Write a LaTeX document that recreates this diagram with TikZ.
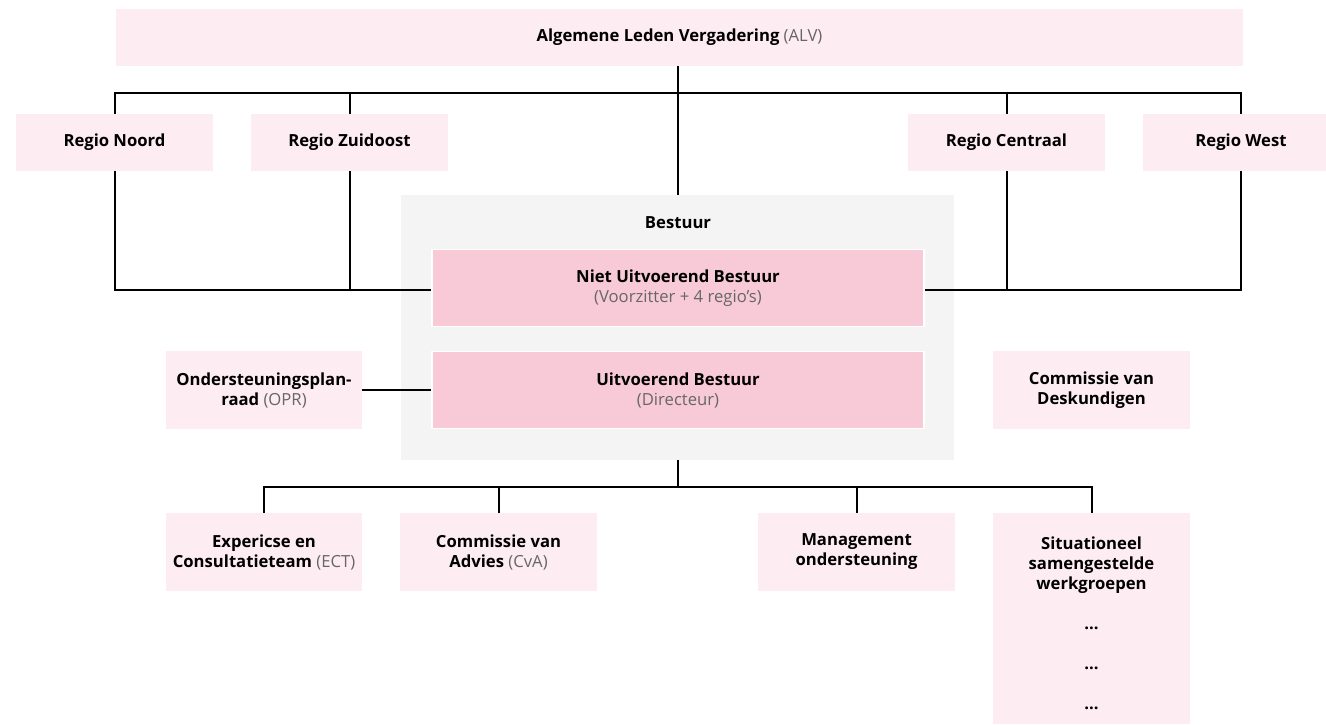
\documentclass[tikz,border=0pt]{standalone}
\usepackage{fontspec}
\setmainfont{Open Sans}
\definecolor{lightpink}{HTML}{FDECF1}
\definecolor{midpink}{HTML}{F8CAD8}
\definecolor{greybg}{HTML}{F4F4F4}
\definecolor{subgrey}{HTML}{666666}
\newcommand{\sub}[1]{{\normalfont\color{subgrey}#1}}
\tikzset{
  orgbox/.style={fill=lightpink, draw=none, inner sep=2pt, align=center,
    font=\fontsize{12.5}{15}\selectfont\bfseries, text=black},
  keybox/.style={orgbox, fill=midpink, draw=white, line width=1.2pt},
  plain/.style={font=\fontsize{12.5}{15}\selectfont\bfseries, align=center},
  link/.style={draw=black, line width=1.5pt},
}
\begin{document}
\begin{tikzpicture}[x=0.75pt, y=-0.75pt]
\useasboundingbox (0,0) rectangle (1326,724);
% top
\node[orgbox, minimum width=1127*0.75pt, minimum height=57*0.75pt] (alv) at (679.5,37.5) {Algemene Leden Vergadering \sub{(ALV)}};
\node[orgbox, minimum width=197*0.75pt, minimum height=57*0.75pt] (rn) at (114.5,142.5) {Regio Noord};
\node[orgbox, minimum width=197*0.75pt, minimum height=57*0.75pt] (rz) at (349.5,142.5) {Regio Zuidoost};
\node[orgbox, minimum width=197*0.75pt, minimum height=57*0.75pt] (rc) at (1006.5,142.5) {Regio Centraal};
\node[orgbox, minimum width=197*0.75pt, minimum height=57*0.75pt] (rw) at (1241,142.5) {Regio West};
% bestuur
\node[fill=greybg, minimum width=553*0.75pt, minimum height=265*0.75pt, inner sep=0pt] (bestuur) at (677.5,327.5) {};
\node[plain] (bestuurlabel) at (678,223) {Bestuur};
\node[keybox, minimum width=492*0.75pt, minimum height=77*0.75pt] (nub) at (678,288) {Niet Uitvoerend Bestuur\\\sub{(Voorzitter + 4 regio’s)}};
\node[keybox, minimum width=492*0.75pt, minimum height=77*0.75pt] (ub) at (678,390) {Uitvoerend Bestuur\\\sub{(Directeur)}};
\node[orgbox, minimum width=196*0.75pt, minimum height=78*0.75pt] (opr) at (264,390) {Ondersteuningsplan-\\raad \sub{(OPR)}};
\node[orgbox, minimum width=197*0.75pt, minimum height=78*0.75pt] (cvd) at (1091.5,390) {Commissie van\\Deskundigen};
% bottom
\node[orgbox, minimum width=196*0.75pt, minimum height=78*0.75pt] (ect) at (264,552) {Expericse en\\Consultatieteam \sub{(ECT)}};
\node[orgbox, minimum width=197*0.75pt, minimum height=78*0.75pt] (cva) at (498.5,552) {Commissie van\\Advies \sub{(CvA)}};
\node[orgbox, minimum width=197*0.75pt, minimum height=78*0.75pt] (mgmt) at (856.5,552) {Management\\ondersteuning};
\node[orgbox, minimum width=197*0.75pt, minimum height=211*0.75pt] (sit) at (1091.5,618.5) {};
\node[plain] (sittext) at (1091.5,565) {Situationeel\\samengestelde\\werkgroepen};
\node[plain] (dots1) at (1091.5,628) {...};
\node[plain] (dots2) at (1091.5,668) {...};
\node[plain] (dots3) at (1091.5,708) {...};
% connectors
\coordinate (bus) at (0,93);
\coordinate (bus2) at (0,487);
\coordinate (mid) at (0,290);
\draw[link] (alv.south -| bestuur.north) -- (bestuur.north);
\draw[link] (rn.north) -- (rn.north |- bus) -- (rw.north |- bus) -- (rw.north);
\draw[link] (rz.north) -- (rz.north |- bus);
\draw[link] (rc.north) -- (rc.north |- bus);
\draw[link] (rn.south) -- (rn.south |- mid) -- (nub.west |- mid);
\draw[link] (rz.south) -- (rz.south |- mid);
\draw[link] (rw.south) -- (rw.south |- mid) -- (nub.east |- mid);
\draw[link] (rc.south) -- (rc.south |- mid);
\draw[link] (opr.east) -- (ub.west);
\draw[link] (bestuur.south) -- (bestuur.south |- bus2);
\draw[link] (ect.north) -- (ect.north |- bus2) -- (sit.north |- bus2) -- (sit.north);
\draw[link] (cva.north) -- (cva.north |- bus2);
\draw[link] (mgmt.north) -- (mgmt.north |- bus2);
\end{tikzpicture}
\end{document}
